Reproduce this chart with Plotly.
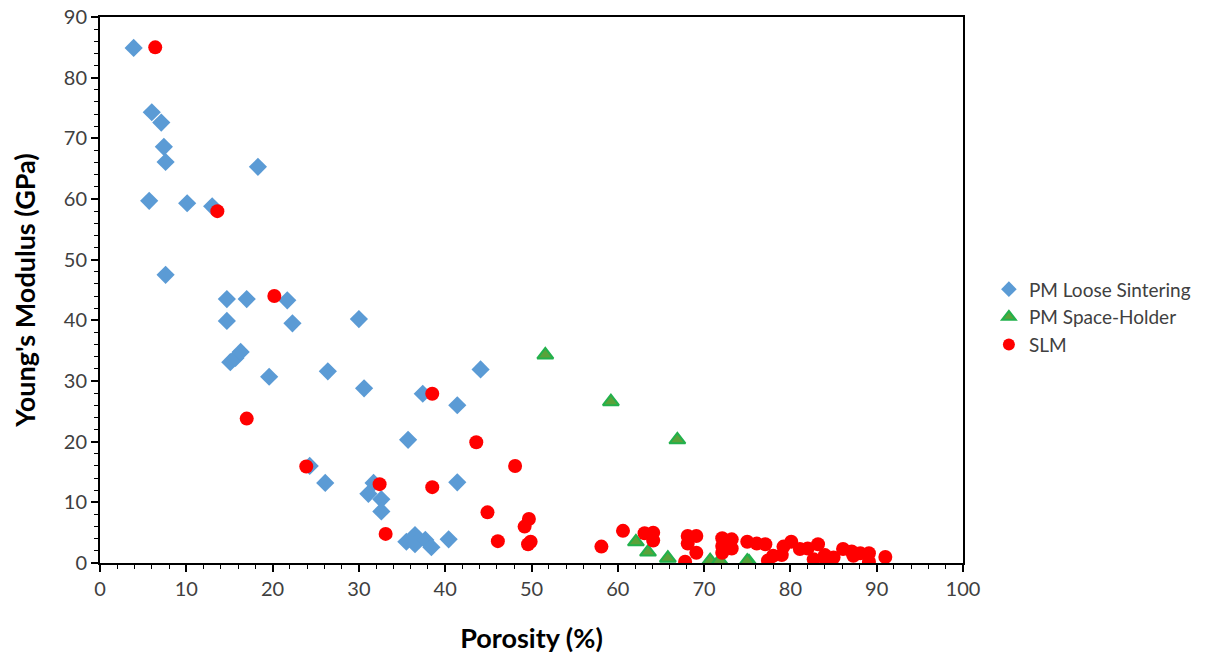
import plotly.graph_objects as go

# PM Loose Sintering
ls_x = [3.9, 6.0, 7.1, 7.4, 7.6, 18.3, 5.7, 10.1, 13.0, 7.6, 14.7, 17.0, 21.7, 14.7, 22.3,
        15.1, 15.7, 16.3, 19.6, 26.4, 30.0, 30.6, 44.1, 37.4, 41.4, 35.7, 24.3, 26.1, 31.7,
        31.1, 32.6, 32.6, 41.4, 35.5, 36.5, 36.5, 37.7, 38.4, 40.4]
ls_y = [84.9, 74.3, 72.6, 68.6, 66.1, 65.3, 59.7, 59.3, 58.8, 47.5, 43.5, 43.5, 43.3, 39.9, 39.5,
        33.1, 33.8, 34.8, 30.7, 31.6, 40.2, 28.8, 31.9, 27.9, 26.0, 20.3, 16.0, 13.2, 13.2,
        11.4, 10.5, 8.5, 13.3, 3.5, 4.6, 3.1, 3.8, 2.6, 3.9]

# PM Space-Holder
sh_x = [51.6, 59.2, 66.9, 62.1, 63.5, 65.8, 70.7, 71.8, 75.2, 75.0]
sh_y = [34.3, 26.6, 20.3, 3.5, 1.8, 0.8, 0.4, 0.4, 0.2, 0.3]

# SLM
slm_x = [6.4, 13.6, 20.2, 17.0, 23.9, 32.4, 33.1, 38.5, 38.5, 43.6, 44.9, 46.1, 48.1, 49.7,
         49.2, 49.9, 49.6, 58.1, 60.6, 63.1, 64.1, 64.1, 67.8, 68.1, 69.1, 68.1, 69.1, 72.1,
         73.2, 72.1, 73.2, 72.1, 75.0, 76.1, 77.1, 77.4, 78.0, 79.2, 79.0, 80.1, 81.1, 82.0,
         83.2, 82.7, 84.0, 84.2, 85.0, 86.1, 87.1, 87.3, 88.1, 89.1, 89.1, 91.0]
slm_y = [85.0, 58.0, 44.0, 23.8, 15.9, 13.0, 4.8, 27.9, 12.5, 19.9, 8.35, 3.6, 16.0, 7.25,
         6.0, 3.5, 3.1, 2.7, 5.3, 4.9, 5.0, 3.7, 0.2, 4.45, 4.45, 3.2, 1.7, 4.1,
         3.9, 2.8, 2.4, 1.7, 3.5, 3.2, 3.1, 0.4, 1.2, 2.7, 1.3, 3.5, 2.3, 2.4,
         3.1, 0.6, 1.3, 0.2, 0.9, 2.3, 1.9, 1.2, 1.6, 1.6, 0.2, 1.0]

x_ticks = [0, 10, 20, 30, 40, 50, 60, 70, 80, 90, 100]
y_ticks = [0, 10, 20, 30, 40, 50, 60, 70, 80, 90]

FONT = "Lato, Carlito, 'Open Sans', sans-serif"

fig = go.Figure()
fig.add_trace(go.Scatter(x=ls_x, y=ls_y, mode="markers", name="PM Loose Sintering",
                         marker=dict(symbol="diamond", size=14, color="#5B9BD5",
                                     line=dict(width=0))))
fig.add_trace(go.Scatter(x=sh_x, y=sh_y, mode="markers", name="PM Space-Holder",
                         marker=dict(symbol="triangle-up", size=14, color="#5AA23A",
                                     line=dict(width=2, color="#22B14C"))))
fig.add_trace(go.Scatter(x=slm_x, y=slm_y, mode="markers", name="SLM",
                         marker=dict(symbol="circle", size=14, color="#FF0000",
                                     line=dict(width=0))))

axis_common = dict(showline=True, linecolor="black", linewidth=2, mirror=True,
                   showgrid=False, zeroline=False, ticks="outside", ticklen=7,
                   tickwidth=1.5, tickcolor="black", automargin=False,
                   tickfont=dict(family=FONT, size=20, color="#404040"))

fig.update_xaxes(range=[0, 100], tickvals=x_ticks,
                 minor=dict(dtick=2, ticks="outside", ticklen=4, tickcolor="black", tickwidth=1.2),
                 title=dict(text="<b>Porosity (%)</b>", font=dict(family=FONT, size=27, color="black"),
                            standoff=30),
                 **axis_common)
fig.update_yaxes(range=[0, 90], tickvals=y_ticks,
                 minor=dict(dtick=2, ticks="outside", ticklen=4, tickcolor="black", tickwidth=1.2),
                 title=dict(text="<b>Young's Modulus (GPa)</b>", font=dict(family=FONT, size=27, color="black"),
                            standoff=20),
                 **axis_common)

fig.update_layout(
    width=1208, height=663,
    margin=dict(l=100, r=245, t=17, b=100, autoexpand=False),
    plot_bgcolor="white", paper_bgcolor="white",
    legend=dict(x=1.03, y=0.45, xanchor="left", yanchor="middle",
                font=dict(family=FONT, size=19, color="#404040"),
                itemsizing="constant", itemwidth=30, tracegroupgap=0),
    showlegend=True,
)

fig.write_html("out.html")
